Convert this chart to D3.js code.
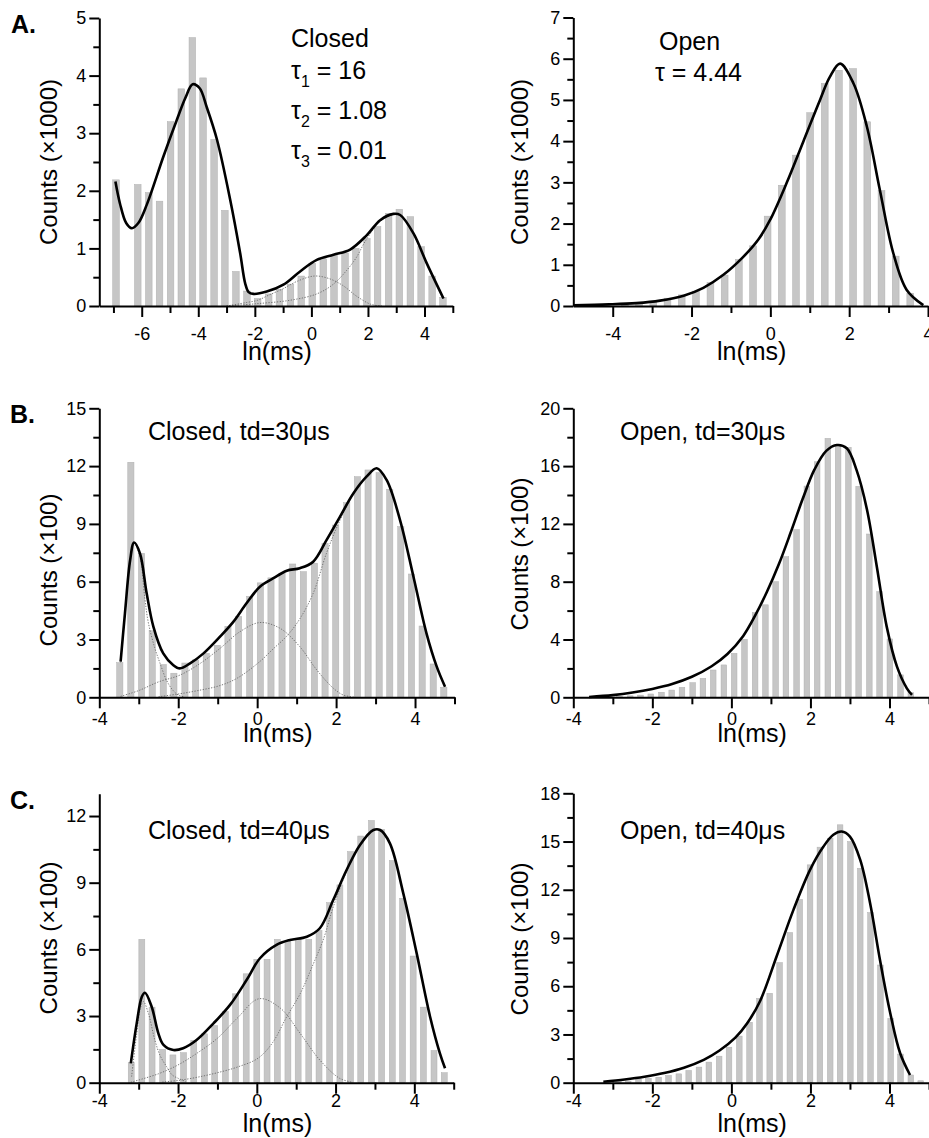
<!DOCTYPE html>
<html>
<head>
<meta charset="utf-8">
<script src="https://cdn.jsdelivr.net/npm/d3@7"></script>
<style>
  body { margin: 0; background: #fff; }
  svg { display: block; font-family: "Liberation Sans", Arial, Helvetica, sans-serif; }
</style>
</head>
<body>
<svg id="chart" width="929" height="1138"></svg>
<script>
// ---------------- data ----------------
// A. closed dwell times, counts x1000
const aClosedBins = [-6.91, -6.52, -6.14, -5.75, -5.37, -4.98, -4.60, -4.21, -3.83, -3.44, -3.06, -2.67, -2.28, -1.90, -1.51, -1.13, -0.74, -0.36, 0.03, 0.42, 0.80, 1.19, 1.57, 1.96, 2.34, 2.73, 3.11, 3.50, 3.88, 4.27, 4.65];
const aClosedCounts = [2.19, 0, 2.11, 1.97, 1.82, 3.20, 3.77, 4.66, 3.96, 2.89, 1.66, 0.60, 0.26, 0.13, 0.21, 0.29, 0.38, 0.52, 0.74, 0.82, 0.88, 0.92, 1.00, 1.17, 1.38, 1.61, 1.68, 1.55, 1.03, 0.52, 0.15];
const aClosedFit = [[-6.93, 2.16], [-6.77, 1.78], [-6.55, 1.44], [-6.35, 1.35], [-6.12, 1.44], [-5.82, 1.76], [-5.23, 2.6], [-4.76, 3.23], [-4.45, 3.62], [-4.2, 3.85], [-3.95, 3.78], [-3.7, 3.45], [-3.34, 2.89], [-2.87, 1.84], [-2.52, 0.92], [-2.34, 0.39], [-2.22, 0.24], [-2.05, 0.21], [-1.58, 0.25], [-0.99, 0.37], [-0.40, 0.6], [0.19, 0.8], [0.78, 0.89], [1.37, 0.98], [1.96, 1.23], [2.43, 1.49], [2.9, 1.6], [3.14, 1.58], [3.61, 1.26], [4.08, 0.74], [4.67, 0.13]];
const aClosedMid = [[-3.0, 0.0], [-2.3, 0.06], [-1.9, 0.1], [-1.5, 0.19], [-1.0, 0.3], [-0.5, 0.43], [0.1, 0.52], [0.6, 0.48], [1.1, 0.36], [1.6, 0.17], [2.1, 0.03], [2.5, 0.0]];
const aClosedSlow = [[-3.0, 0.0], [-1.93, 0.04], [-0.75, 0.1], [0.19, 0.21], [0.78, 0.38], [1.25, 0.62], [1.6, 0.85], [1.9, 1.12], [2.43, 1.47], [2.9, 1.59], [3.14, 1.58], [3.61, 1.26], [4.08, 0.74], [4.67, 0.13]];

// A. open dwell times, counts x1000
const aOpenBins = [-3.69, -3.33, -2.97, -2.61, -2.25, -1.89, -1.52, -1.16, -0.80, -0.44, -0.07, 0.29, 0.65, 1.01, 1.38, 1.74, 2.10, 2.46, 2.82, 3.18, 3.55];
const aOpenCounts = [0.03, 0.06, 0.10, 0.19, 0.27, 0.36, 0.57, 0.75, 1.13, 1.46, 2.18, 2.93, 3.66, 4.69, 5.40, 5.72, 5.76, 4.47, 2.80, 1.21, 0.31];
const aOpenFit = [[-5, 0.02], [-4.1, 0.04], [-3.4, 0.07], [-2.8, 0.13], [-2.2, 0.25], [-1.7, 0.44], [-1.2, 0.75], [-0.7, 1.18], [-0.3, 1.62], [0.0, 2.1], [0.42, 3.0], [0.84, 4.0], [1.26, 5.0], [1.51, 5.56], [1.77, 5.88], [2.11, 5.4], [2.45, 4.35], [2.78, 2.81], [3.12, 1.28], [3.46, 0.39], [3.88, 0.02]];

// B. closed, td = 30 us, counts x100
const bClosedBins = [-3.48, -3.20, -2.93, -2.66, -2.38, -2.11, -1.83, -1.56, -1.29, -1.01, -0.74, -0.47, -0.19, 0.08, 0.35, 0.63, 0.90, 1.17, 1.45, 1.72, 1.99, 2.27, 2.54, 2.81, 3.09, 3.36, 3.64, 3.91, 4.18, 4.46, 4.73];
const bClosedCounts = [1.8, 12.2, 7.47, 3.46, 1.7, 1.25, 1.78, 1.94, 2.28, 2.7, 3.68, 4.2, 5.24, 5.94, 6.2, 6.44, 6.92, 6.52, 6.96, 7.99, 8.94, 10.1, 11.45, 11.8, 11.66, 10.8, 8.86, 6.4, 3.7, 1.73, 0.52];
const bClosedFit = [[-3.46, 1.85], [-3.35, 4.36], [-3.22, 7.1], [-3.12, 8.03], [-2.97, 7.47], [-2.8, 5.4], [-2.63, 3.67], [-2.38, 2.28], [-2.13, 1.68], [-1.96, 1.5], [-1.7, 1.76], [-1.36, 2.28], [-0.94, 3.15], [-0.6, 3.93], [-0.27, 4.88], [0.07, 5.74], [0.41, 6.18], [0.75, 6.57], [1.08, 6.7], [1.42, 7.04], [1.76, 8.17], [2.1, 9.38], [2.44, 10.59], [2.77, 11.45], [3.03, 11.89], [3.28, 11.28], [3.62, 9.2], [3.96, 6.26], [4.29, 3.32], [4.55, 1.59], [4.76, 0.55]];
const bClosedFast = [[-3.46, 1.8], [-3.35, 4.3], [-3.22, 7.0], [-3.12, 8.0], [-2.97, 7.3], [-2.85, 5.2], [-2.76, 3.9], [-2.6, 2.6], [-2.46, 1.76], [-2.3, 0.9], [-2.15, 0.4], [-2.0, 0.12], [-1.85, 0.02]];
const bClosedMid = [[-3.46, 0.05], [-3.0, 0.35], [-2.5, 0.8], [-1.96, 1.15], [-1.45, 1.75], [-0.94, 2.54], [-0.44, 3.4], [0.07, 3.88], [0.58, 3.58], [1.08, 2.63], [1.51, 1.42], [1.93, 0.47], [2.18, 0.12], [2.5, 0.0]];
const bClosedSlow = [[-2.5, 0.03], [-2.0, 0.17], [-1.5, 0.35], [-0.94, 0.61], [-0.5, 1.0], [0.07, 1.86], [0.4, 2.5], [0.76, 3.2], [1.08, 4.07], [1.42, 5.4], [1.76, 7.5], [2.1, 9.2], [2.44, 10.55], [2.77, 11.43], [3.03, 11.87], [3.28, 11.28], [3.62, 9.2], [3.96, 6.26], [4.29, 3.32], [4.55, 1.59], [4.76, 0.55]];

// B. open, td = 30 us, counts x100
const bOpenBins = [-3.35, -3.09, -2.83, -2.56, -2.30, -2.04, -1.77, -1.51, -1.25, -0.98, -0.72, -0.46, -0.19, 0.07, 0.33, 0.60, 0.86, 1.12, 1.38, 1.65, 1.91, 2.17, 2.44, 2.70, 2.96, 3.22, 3.49, 3.75, 4.01, 4.28, 4.54];
const bOpenCounts = [0.02, 0.04, 0.07, 0.10, 0.15, 0.23, 0.35, 0.50, 0.69, 1.01, 1.31, 1.89, 2.24, 3.04, 4.01, 5.86, 6.4, 8.0, 9.73, 11.6, 14.62, 16.3, 17.92, 17.4, 17.3, 14.6, 11.3, 7.31, 4.04, 1.55, 0.32];
const bOpenFit = [[-3.6, 0.02], [-3.0, 0.15], [-2.5, 0.33], [-2.0, 0.58], [-1.5, 0.92], [-1.0, 1.42], [-0.5, 2.15], [-0.1, 3.0], [0.3, 4.25], [0.6, 5.65], [0.9, 7.3], [1.2, 9.2], [1.5, 11.4], [1.8, 13.7], [2.1, 15.75], [2.4, 17.05], [2.67, 17.46], [2.92, 17.23], [3.17, 15.7], [3.43, 13.0], [3.68, 9.04], [3.93, 4.89], [4.19, 2.12], [4.44, 0.62], [4.57, 0.16]];

// C. closed, td = 40 us, counts x100
const cClosedBins = [-3.19, -2.92, -2.66, -2.39, -2.13, -1.86, -1.60, -1.33, -1.07, -0.80, -0.54, -0.27, 0.00, 0.26, 0.52, 0.79, 1.05, 1.32, 1.58, 1.85, 2.11, 2.38, 2.64, 2.91, 3.17, 3.44, 3.70, 3.97, 4.23, 4.50, 4.76];
const cClosedCounts = [0.9, 6.45, 3.4, 1.5, 1.25, 1.35, 1.9, 2.2, 2.57, 3.2, 4.0, 4.9, 5.55, 5.55, 6.45, 6.4, 6.45, 6.45, 6.85, 8.1, 8.9, 10.4, 11.1, 11.8, 11.4, 10.0, 8.3, 5.7, 3.4, 1.45, 0.45];
const cClosedFit = [[-3.2, 0.87], [-3.05, 2.67], [-2.92, 3.87], [-2.84, 4.05], [-2.67, 3.42], [-2.5, 2.22], [-2.37, 1.7], [-2.12, 1.47], [-1.87, 1.55], [-1.53, 1.92], [-1.1, 2.67], [-0.68, 3.5], [-0.26, 4.62], [0.08, 5.6], [0.5, 6.2], [0.84, 6.42], [1.27, 6.57], [1.6, 6.95], [1.94, 8.22], [2.28, 9.57], [2.62, 10.7], [2.96, 11.37], [3.13, 11.37], [3.38, 10.77], [3.72, 8.52], [4.06, 5.82], [4.4, 2.97], [4.65, 1.32], [4.78, 0.65]];
const cClosedFast = [[-3.18, 0.27], [-3.05, 2.2], [-2.95, 3.4], [-2.88, 3.65], [-2.75, 3.1], [-2.59, 1.92], [-2.45, 1.2], [-2.29, 0.72], [-2.15, 0.35], [-2.0, 0.2], [-1.8, 0.05]];
const cClosedMid = [[-3.2, 0.02], [-2.5, 0.4], [-2.0, 0.8], [-1.5, 1.35], [-1.0, 2.0], [-0.5, 2.9], [0.06, 3.78], [0.6, 3.35], [1.1, 2.22], [1.6, 1.02], [2.1, 0.2], [2.4, 0.03]];
const cClosedSlow = [[-2.4, 0.03], [-2.0, 0.1], [-1.5, 0.25], [-1.0, 0.45], [-0.5, 0.7], [0.03, 1.1], [0.4, 1.8], [0.76, 2.97], [1.1, 4.0], [1.4, 5.2], [1.7, 6.5], [1.94, 7.9], [2.28, 9.5], [2.62, 10.7], [2.96, 11.37], [3.13, 11.37], [3.38, 10.77], [3.72, 8.52], [4.06, 5.82], [4.4, 2.97], [4.65, 1.32], [4.78, 0.65]];

// C. open, td = 40 us, counts x100
const cOpenBins = [-3.12, -2.86, -2.61, -2.35, -2.10, -1.84, -1.59, -1.33, -1.08, -0.82, -0.57, -0.31, -0.06, 0.20, 0.46, 0.71, 0.97, 1.22, 1.48, 1.73, 1.99, 2.24, 2.50, 2.75, 3.01, 3.26, 3.52, 3.77, 4.03, 4.28, 4.54, 4.79];
const cOpenCounts = [0.05, 0.15, 0.10, 0.23, 0.27, 0.34, 0.45, 0.55, 0.76, 0.97, 1.28, 1.65, 2.21, 2.9, 3.76, 5.25, 5.56, 7.47, 9.34, 11.4, 13.55, 14.65, 15.2, 16.04, 15.0, 13.34, 10.58, 7.32, 4.0, 1.78, 0.48, 0.12];
const cOpenFit = [[-3.24, 0.06], [-2.7, 0.2], [-2.2, 0.37], [-1.7, 0.6], [-1.2, 0.93], [-0.7, 1.42], [-0.3, 2.0], [0.1, 2.8], [0.4, 3.7], [0.73, 5.1], [1.15, 7.9], [1.57, 10.75], [1.99, 13.24], [2.33, 14.69], [2.58, 15.42], [2.79, 15.62], [3.0, 15.31], [3.26, 13.86], [3.51, 11.16], [3.76, 7.63], [4.02, 4.32], [4.27, 1.83], [4.52, 0.48]];

// text
const panelLetters = ["A.", "B.", "C."];
const yTitles = ["Counts (\u00d71000)", "Counts (\u00d7100)"];
const xTitle = "ln(ms)";
const closedTaus = [["1", "16"], ["2", "1.08"], ["3", "0.01"]];
const openTau = "4.44";
const tdTitles = ["Closed, td=30", "Open, td=30", "Closed, td=40", "Open, td=40"];

// ---------------- drawing ----------------
const svg = d3.select("#chart");
const barFill = "#c6c6c6";

const fitLine = (x, y) => d3.line()
  .x((d) => x(d[0]))
  .y((d) => y(d[1]))
  .curve(d3.curveCatmullRom.alpha(0.5));

function drawPanel(p) {
  const x = d3.scaleLinear().domain(p.xDomain).range([p.left, p.right]);
  const y = d3.scaleLinear().domain(p.yDomain).range([p.bottom, p.top]);
  const g = svg.append("g");

  const step = x(p.bins[1]) - x(p.bins[0]);
  const bw = step * p.barFrac;

  g.selectAll(null)
    .data(p.bins)
    .enter()
    .append("rect")
    .attr("x", (d) => x(d) - bw / 2)
    .attr("y", (d, i) => y(p.counts[i]))
    .attr("width", bw)
    .attr("height", (d, i) => y(0) - y(p.counts[i]))
    .attr("fill", barFill)
    .attr("stroke", "#b0b0b0")
    .attr("stroke-width", 0.5);

  const line = fitLine(x, y);
  (p.components || []).forEach((c) => {
    g.append("path")
      .datum(c)
      .attr("d", line)
      .attr("fill", "none")
      .attr("stroke", "#6a6a6a")
      .attr("stroke-width", 0.9)
      .attr("stroke-dasharray", "1.3,1.5");
  });

  g.append("path")
    .datum(p.fit)
    .attr("d", line)
    .attr("fill", "none")
    .attr("stroke", "#000")
    .attr("stroke-width", 2.6)
    .attr("stroke-linejoin", "round");

  // minor ticks
  g.append("g")
    .attr("transform", "translate(" + p.left + ",0)")
    .call(d3.axisLeft(y).tickValues(p.yMinor).tickSize(6).tickFormat(""))
    .call((s) => s.select(".domain").remove());
  g.append("g")
    .attr("transform", "translate(0," + p.bottom + ")")
    .call(d3.axisBottom(x).tickValues(p.xMinor).tickSize(7).tickFormat(""))
    .call((s) => s.select(".domain").remove());

  // major axes
  const yAx = g.append("g")
    .attr("transform", "translate(" + p.left + ",0)")
    .call(d3.axisLeft(y).tickValues(p.yTicks).tickSize(10).tickSizeOuter(0)
      .tickPadding(3).tickFormat((d) => String(d)));
  const xAx = g.append("g")
    .attr("transform", "translate(0," + p.bottom + ")")
    .call(d3.axisBottom(x).tickValues(p.xTicks).tickSize(11).tickSizeOuter(0)
      .tickPadding(p.xPad).tickFormat((d) => String(d)));

  g.selectAll(".tick line, .domain")
    .attr("stroke", "#000")
    .attr("stroke-width", 2);
  [yAx, xAx].forEach((a) => a.selectAll("text")
    .attr("fill", "#000")
    .style("font-size", "18px")
    .style("font-family", "'Liberation Sans', Arial, sans-serif"));

  // titles
  g.append("text")
    .attr("transform", "translate(" + p.yTitleX + "," + p.yTitleY + ") rotate(-90)")
    .attr("text-anchor", "middle")
    .style("font-size", "24px")
    .text(p.yTitle);
  g.append("text")
    .attr("x", (p.left + p.right) / 2 + 1)
    .attr("y", p.xTitleY)
    .attr("text-anchor", "middle")
    .style("font-size", "25px")
    .text(xTitle);
  return g;
}

const ticksA = [-6, -4, -2, 0, 2, 4];
const ticksB = [-4, -2, 0, 2, 4];
const minorA = [-7, -5, -3, -1, 1, 3, 5];
const minorB = [-3, -1, 1, 3, 5];

const gA1 = drawPanel({
  left: 99.3, right: 452.8, top: 18, bottom: 306,
  xDomain: [-7.5, 5], yDomain: [0, 5],
  xTicks: ticksA, xMinor: minorA,
  yTicks: [0, 1, 2, 3, 4, 5], yMinor: [0.5, 1.5, 2.5, 3.5, 4.5],
  bins: aClosedBins, counts: aClosedCounts, barFrac: 0.6,
  fit: aClosedFit, components: [aClosedMid, aClosedSlow],
  xPad: 10, yTitle: yTitles[0], yTitleX: 57, yTitleY: 162, xTitleY: 360
});
const gA2 = drawPanel({
  left: 573.3, right: 928, top: 17.5, bottom: 306,
  xDomain: [-5, 4], yDomain: [0, 7],
  xTicks: ticksB, xMinor: [-3, -1, 1, 3],
  yTicks: [0, 1, 2, 3, 4, 5, 6, 7], yMinor: [0.5, 1.5, 2.5, 3.5, 4.5, 5.5, 6.5],
  bins: aOpenBins, counts: aOpenCounts, barFrac: 0.48,
  fit: aOpenFit, components: [],
  xPad: 10, yTitle: yTitles[0], yTitleX: 528, yTitleY: 162, xTitleY: 360
});
const gB1 = drawPanel({
  left: 99.3, right: 454.5, top: 408.3, bottom: 697.3,
  xDomain: [-4, 5], yDomain: [0, 15],
  xTicks: ticksB, xMinor: minorB,
  yTicks: [0, 3, 6, 9, 12, 15], yMinor: [1.5, 4.5, 7.5, 10.5, 13.5],
  bins: bClosedBins, counts: bClosedCounts, barFrac: 0.56,
  fit: bClosedFit, components: [bClosedFast, bClosedMid, bClosedSlow],
  xPad: 4, yTitle: yTitles[1], yTitleX: 57, yTitleY: 570, xTitleY: 742
});
const gB2 = drawPanel({
  left: 573.3, right: 929, top: 408.3, bottom: 697.3,
  xDomain: [-4, 5], yDomain: [0, 20],
  xTicks: ticksB, xMinor: minorB,
  yTicks: [0, 4, 8, 12, 16, 20], yMinor: [2, 6, 10, 14, 18],
  bins: bOpenBins, counts: bOpenCounts, barFrac: 0.55,
  fit: bOpenFit, components: [],
  xPad: 4, yTitle: yTitles[1], yTitleX: 528, yTitleY: 554, xTitleY: 742
});
const gC1 = drawPanel({
  left: 99.3, right: 453.7, top: 793.8, bottom: 1082.7,
  xDomain: [-4, 5], yDomain: [0, 13],
  xTicks: ticksB, xMinor: minorB,
  yTicks: [0, 3, 6, 9, 12], yMinor: [1.5, 4.5, 7.5, 10.5],
  bins: cClosedBins, counts: cClosedCounts, barFrac: 0.56,
  fit: cClosedFit, components: [cClosedFast, cClosedMid, cClosedSlow],
  xPad: 1, yTitle: yTitles[1], yTitleX: 57, yTitleY: 938, xTitleY: 1132
});
const gC2 = drawPanel({
  left: 573.3, right: 929, top: 793.3, bottom: 1082.7,
  xDomain: [-4, 5], yDomain: [0, 18],
  xTicks: ticksB, xMinor: minorB,
  yTicks: [0, 3, 6, 9, 12, 15, 18], yMinor: [1.5, 4.5, 7.5, 10.5, 13.5, 16.5],
  bins: cOpenBins, counts: cOpenCounts, barFrac: 0.55,
  fit: cOpenFit, components: [],
  xPad: 1, yTitle: yTitles[1], yTitleX: 528, yTitleY: 939, xTitleY: 1132
});

// panel letters
[[11, 33], [10, 423], [10, 809]].forEach((pos, i) => {
  svg.append("text")
    .attr("x", pos[0]).attr("y", pos[1])
    .style("font-size", "25px").style("font-weight", "bold")
    .text(panelLetters[i]);
});

// annotations
const note = (g, x, y, str) => g.append("text")
  .attr("x", x).attr("y", y).style("font-size", "25px").text(str);

note(gA1, 291, 47, "Closed");
closedTaus.forEach((t, i) => {
  const tx = gA1.append("text")
    .attr("x", 291).attr("y", 79 + i * 40)
    .style("font-size", "25px");
  tx.append("tspan").text("\u03c4");
  tx.append("tspan").attr("dy", 8).style("font-size", "16px").text(t[0]);
  tx.append("tspan").attr("dy", -8).text(" = " + t[1]);
});
note(gA2, 659, 50, "Open");
note(gA2, 655, 81, "\u03c4 = " + openTau);

const tdPos = [[gB1, 148, 440], [gB2, 620, 440], [gC1, 148, 839], [gC2, 620, 839]];
tdPos.forEach((p, i) => {
  const t = note(p[0], p[1], p[2], tdTitles[i]);
  t.append("tspan").text("\u03bcs");
});
</script>
</body>
</html>
